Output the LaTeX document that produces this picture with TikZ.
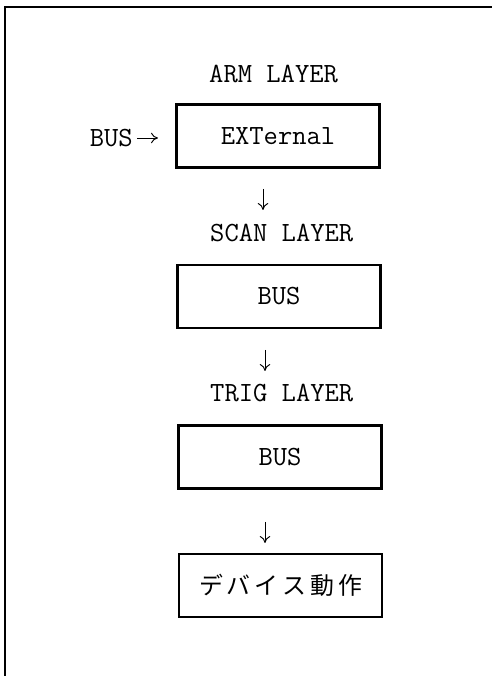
\documentclass[tikz,border=0pt]{standalone}
\usepackage{fontspec}
\newfontfamily\jpfont[LetterSpace=17]{Noto Sans CJK JP}
\usetikzlibrary{arrows.meta}

\begin{document}
\begin{tikzpicture}[
  layerbox/.style={draw, line width=2pt, minimum width=6.1cm, minimum height=1.9cm,
    inner sep=0pt, font=\ttfamily\fontsize{23.7}{28}\selectfont},
  layerlabel/.style={anchor=west, inner sep=0pt, font=\ttfamily\fontsize{23.7}{28}\selectfont},
  stepdown/.style={-{To[length=6pt,width=9pt]}, line width=0.8pt}
]

% Area del disegno
\useasboundingbox (0,0) rectangle (14.76,20.28);

% Cornice (solo lato superiore e sinistro)
\draw[line width=1.2pt] (14.76,20.07) -- (0.15,20.07) -- (0.15,0);

% ARM LAYER
\node[layerlabel] (armlabel) at (6.27,18.075) {ARM LAYER};
\node[layerbox] (armbox) at (8.34,16.2) {EXTernal};
\node[layerlabel, anchor=east] (buslabel) at (3.99,16.14) {BUS};
\coordinate (busend) at (4.74,16.14);
\draw[stepdown, shorten <=0.12cm] (buslabel) -- (busend);

% Freccia 1
\coordinate (down1a) at (7.89,14.61);
\coordinate (down1b) at (7.89,13.98);
\draw[stepdown] (down1a) -- (down1b);

% SCAN LAYER
\node[layerlabel] (scanlabel) at (6.3,13.305) {SCAN LAYER};
\node[layerbox] (scanbox) at (8.37,11.385) {BUS};

% Freccia 2
\coordinate (down2a) at (7.95,9.78);
\coordinate (down2b) at (7.95,9.15);
\draw[stepdown] (down2a) -- (down2b);

% TRIG LAYER
\node[layerlabel] (triglabel) at (6.3,8.49) {TRIG LAYER};
\node[layerbox] (trigbox) at (8.4,6.57) {BUS};

% Freccia 3
\coordinate (down3a) at (7.95,4.62);
\coordinate (down3b) at (7.95,3.99);
\draw[stepdown] (down3a) -- (down3b);

% Dispositivo
\node[layerbox, font=\jpfont\fontsize{20.4}{24}\selectfont] (devbox) at (8.415,2.715) {デバイス動作};

\end{tikzpicture}
\end{document}
